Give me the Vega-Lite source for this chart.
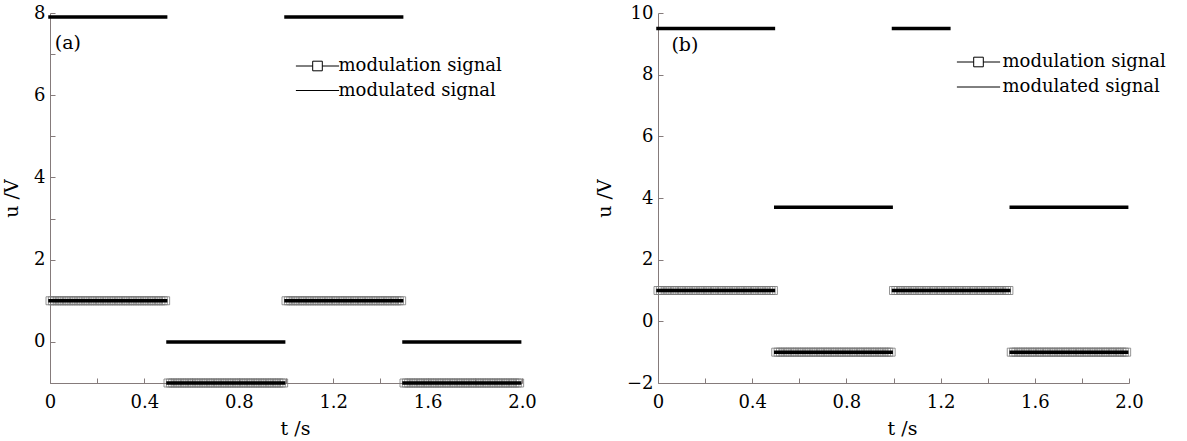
{
"$schema": "https://vega.github.io/schema/vega-lite/v6.json",
"background": "white",
"padding": {"left": 2, "top": 4, "right": 5, "bottom": 5},
"spacing": 58,
"config": {
  "view": {"stroke": null},
  "font": "DejaVu Serif",
  "axis": {"grid": false, "domainColor": "#857b7b", "tickColor": "#857b7b", "tickSize": -5, "domainWidth": 1, "tickWidth": 1,
    "labelFont": "DejaVu Serif", "labelFontSize": 18, "labelColor": "black", "labelOverlap": false, "labelFlush": false,
    "titleFont": "DejaVu Serif", "titleFontSize": 19, "titleFontWeight": "normal", "titleColor": "black"},
  "axisX": {"labelPadding": 15, "titlePadding": 8},
  "axisY": {"labelPadding": 10, "titlePadding": 12}
},
"datasets": {
  "mod": [
{"g":1,"t":0,"u":1},{"g":1,"t":0.01,"u":1},{"g":1,"t":0.02,"u":1},{"g":1,"t":0.03,"u":1},{"g":1,"t":0.04,"u":1},{"g":1,"t":0.05,"u":1},{"g":1,"t":0.06,"u":1},{"g":1,"t":0.07,"u":1},{"g":1,"t":0.08,"u":1},{"g":1,"t":0.09,"u":1},
{"g":1,"t":0.1,"u":1},{"g":1,"t":0.11,"u":1},{"g":1,"t":0.12,"u":1},{"g":1,"t":0.13,"u":1},{"g":1,"t":0.14,"u":1},{"g":1,"t":0.15,"u":1},{"g":1,"t":0.16,"u":1},{"g":1,"t":0.17,"u":1},{"g":1,"t":0.18,"u":1},{"g":1,"t":0.19,"u":1},
{"g":1,"t":0.2,"u":1},{"g":1,"t":0.21,"u":1},{"g":1,"t":0.22,"u":1},{"g":1,"t":0.23,"u":1},{"g":1,"t":0.24,"u":1},{"g":1,"t":0.25,"u":1},{"g":1,"t":0.26,"u":1},{"g":1,"t":0.27,"u":1},{"g":1,"t":0.28,"u":1},{"g":1,"t":0.29,"u":1},
{"g":1,"t":0.3,"u":1},{"g":1,"t":0.31,"u":1},{"g":1,"t":0.32,"u":1},{"g":1,"t":0.33,"u":1},{"g":1,"t":0.34,"u":1},{"g":1,"t":0.35,"u":1},{"g":1,"t":0.36,"u":1},{"g":1,"t":0.37,"u":1},{"g":1,"t":0.38,"u":1},{"g":1,"t":0.39,"u":1},
{"g":1,"t":0.4,"u":1},{"g":1,"t":0.41,"u":1},{"g":1,"t":0.42,"u":1},{"g":1,"t":0.43,"u":1},{"g":1,"t":0.44,"u":1},{"g":1,"t":0.45,"u":1},{"g":1,"t":0.46,"u":1},{"g":1,"t":0.47,"u":1},{"g":1,"t":0.48,"u":1},{"g":1,"t":0.49,"u":1},
{"g":2,"t":0.5,"u":-1},{"g":2,"t":0.51,"u":-1},{"g":2,"t":0.52,"u":-1},{"g":2,"t":0.53,"u":-1},{"g":2,"t":0.54,"u":-1},{"g":2,"t":0.55,"u":-1},{"g":2,"t":0.56,"u":-1},{"g":2,"t":0.57,"u":-1},{"g":2,"t":0.58,"u":-1},{"g":2,"t":0.59,"u":-1},
{"g":2,"t":0.6,"u":-1},{"g":2,"t":0.61,"u":-1},{"g":2,"t":0.62,"u":-1},{"g":2,"t":0.63,"u":-1},{"g":2,"t":0.64,"u":-1},{"g":2,"t":0.65,"u":-1},{"g":2,"t":0.66,"u":-1},{"g":2,"t":0.67,"u":-1},{"g":2,"t":0.68,"u":-1},{"g":2,"t":0.69,"u":-1},
{"g":2,"t":0.7,"u":-1},{"g":2,"t":0.71,"u":-1},{"g":2,"t":0.72,"u":-1},{"g":2,"t":0.73,"u":-1},{"g":2,"t":0.74,"u":-1},{"g":2,"t":0.75,"u":-1},{"g":2,"t":0.76,"u":-1},{"g":2,"t":0.77,"u":-1},{"g":2,"t":0.78,"u":-1},{"g":2,"t":0.79,"u":-1},
{"g":2,"t":0.8,"u":-1},{"g":2,"t":0.81,"u":-1},{"g":2,"t":0.82,"u":-1},{"g":2,"t":0.83,"u":-1},{"g":2,"t":0.84,"u":-1},{"g":2,"t":0.85,"u":-1},{"g":2,"t":0.86,"u":-1},{"g":2,"t":0.87,"u":-1},{"g":2,"t":0.88,"u":-1},{"g":2,"t":0.89,"u":-1},
{"g":2,"t":0.9,"u":-1},{"g":2,"t":0.91,"u":-1},{"g":2,"t":0.92,"u":-1},{"g":2,"t":0.93,"u":-1},{"g":2,"t":0.94,"u":-1},{"g":2,"t":0.95,"u":-1},{"g":2,"t":0.96,"u":-1},{"g":2,"t":0.97,"u":-1},{"g":2,"t":0.98,"u":-1},{"g":2,"t":0.99,"u":-1},
{"g":3,"t":1,"u":1},{"g":3,"t":1.01,"u":1},{"g":3,"t":1.02,"u":1},{"g":3,"t":1.03,"u":1},{"g":3,"t":1.04,"u":1},{"g":3,"t":1.05,"u":1},{"g":3,"t":1.06,"u":1},{"g":3,"t":1.07,"u":1},{"g":3,"t":1.08,"u":1},{"g":3,"t":1.09,"u":1},
{"g":3,"t":1.1,"u":1},{"g":3,"t":1.11,"u":1},{"g":3,"t":1.12,"u":1},{"g":3,"t":1.13,"u":1},{"g":3,"t":1.14,"u":1},{"g":3,"t":1.15,"u":1},{"g":3,"t":1.16,"u":1},{"g":3,"t":1.17,"u":1},{"g":3,"t":1.18,"u":1},{"g":3,"t":1.19,"u":1},
{"g":3,"t":1.2,"u":1},{"g":3,"t":1.21,"u":1},{"g":3,"t":1.22,"u":1},{"g":3,"t":1.23,"u":1},{"g":3,"t":1.24,"u":1},{"g":3,"t":1.25,"u":1},{"g":3,"t":1.26,"u":1},{"g":3,"t":1.27,"u":1},{"g":3,"t":1.28,"u":1},{"g":3,"t":1.29,"u":1},
{"g":3,"t":1.3,"u":1},{"g":3,"t":1.31,"u":1},{"g":3,"t":1.32,"u":1},{"g":3,"t":1.33,"u":1},{"g":3,"t":1.34,"u":1},{"g":3,"t":1.35,"u":1},{"g":3,"t":1.36,"u":1},{"g":3,"t":1.37,"u":1},{"g":3,"t":1.38,"u":1},{"g":3,"t":1.39,"u":1},
{"g":3,"t":1.4,"u":1},{"g":3,"t":1.41,"u":1},{"g":3,"t":1.42,"u":1},{"g":3,"t":1.43,"u":1},{"g":3,"t":1.44,"u":1},{"g":3,"t":1.45,"u":1},{"g":3,"t":1.46,"u":1},{"g":3,"t":1.47,"u":1},{"g":3,"t":1.48,"u":1},{"g":3,"t":1.49,"u":1},
{"g":4,"t":1.5,"u":-1},{"g":4,"t":1.51,"u":-1},{"g":4,"t":1.52,"u":-1},{"g":4,"t":1.53,"u":-1},{"g":4,"t":1.54,"u":-1},{"g":4,"t":1.55,"u":-1},{"g":4,"t":1.56,"u":-1},{"g":4,"t":1.57,"u":-1},{"g":4,"t":1.58,"u":-1},{"g":4,"t":1.59,"u":-1},
{"g":4,"t":1.6,"u":-1},{"g":4,"t":1.61,"u":-1},{"g":4,"t":1.62,"u":-1},{"g":4,"t":1.63,"u":-1},{"g":4,"t":1.64,"u":-1},{"g":4,"t":1.65,"u":-1},{"g":4,"t":1.66,"u":-1},{"g":4,"t":1.67,"u":-1},{"g":4,"t":1.68,"u":-1},{"g":4,"t":1.69,"u":-1},
{"g":4,"t":1.7,"u":-1},{"g":4,"t":1.71,"u":-1},{"g":4,"t":1.72,"u":-1},{"g":4,"t":1.73,"u":-1},{"g":4,"t":1.74,"u":-1},{"g":4,"t":1.75,"u":-1},{"g":4,"t":1.76,"u":-1},{"g":4,"t":1.77,"u":-1},{"g":4,"t":1.78,"u":-1},{"g":4,"t":1.79,"u":-1},
{"g":4,"t":1.8,"u":-1},{"g":4,"t":1.81,"u":-1},{"g":4,"t":1.82,"u":-1},{"g":4,"t":1.83,"u":-1},{"g":4,"t":1.84,"u":-1},{"g":4,"t":1.85,"u":-1},{"g":4,"t":1.86,"u":-1},{"g":4,"t":1.87,"u":-1},{"g":4,"t":1.88,"u":-1},{"g":4,"t":1.89,"u":-1},
{"g":4,"t":1.9,"u":-1},{"g":4,"t":1.91,"u":-1},{"g":4,"t":1.92,"u":-1},{"g":4,"t":1.93,"u":-1},{"g":4,"t":1.94,"u":-1},{"g":4,"t":1.95,"u":-1},{"g":4,"t":1.96,"u":-1},{"g":4,"t":1.97,"u":-1},{"g":4,"t":1.98,"u":-1},{"g":4,"t":1.99,"u":-1}
  ],
  "siga": [
    {"g":1,"t":0,"u":7.9},{"g":1,"t":0.49,"u":7.9},
    {"g":2,"t":0.5,"u":0},{"g":2,"t":0.99,"u":0},
    {"g":3,"t":1,"u":7.9},{"g":3,"t":1.49,"u":7.9},
    {"g":4,"t":1.5,"u":0},{"g":4,"t":1.99,"u":0}
  ],
  "sigb": [
    {"g":1,"t":0,"u":9.5},{"g":1,"t":0.49,"u":9.5},
    {"g":2,"t":0.5,"u":3.7},{"g":2,"t":0.99,"u":3.7},
    {"g":3,"t":1,"u":9.5},{"g":3,"t":1.235,"u":9.5},
    {"g":4,"t":1.5,"u":3.7},{"g":4,"t":1.99,"u":3.7}
  ]
},
"resolve": {"scale": {"stroke": "independent"}, "legend": {"stroke": "independent"}},
"hconcat": [
  {
    "width": 472, "height": 370,
    "layer": [
      {"data": {"name": "mod"},
       "mark": {"type": "point", "shape": "square", "size": 64, "filled": false, "stroke": "#7a7a7a", "strokeWidth": 0.8, "opacity": 1},
       "encoding": {
         "x": {"field": "t", "type": "quantitative", "scale": {"domain": [0, 2], "nice": false, "zero": false},
               "axis": {"values": [0,0.2,0.4,0.6,0.8,1,1.2,1.4,1.6,1.8,2], "labelExpr": "datum.value == 0 ? '0' : (round(datum.value*10) % 4 == 0 ? format(datum.value, '.1f') : '')", "title": "t /s", "titleX": 245}},
         "y": {"field": "u", "type": "quantitative", "scale": {"domain": [-1, 8], "nice": false, "zero": false},
               "axis": {"values": [-1,0,1,2,3,4,5,6,7,8], "labelExpr": "datum.value % 2 == 0 ? datum.label : ''", "title": "u /V"}}
       }},
      {"data": {"name": "mod"},
       "mark": {"type": "line", "strokeWidth": 3.5, "strokeCap": "square", "strokeDash": [12, 1.5]},
       "encoding": {
         "x": {"field": "t", "type": "quantitative"},
         "y": {"field": "u", "type": "quantitative"},
         "detail": {"field": "g"},
         "stroke": {"datum": "modulation signal", "type": "nominal",
            "scale": {"domain": ["modulation signal", "modulated signal"], "range": ["black", "black"]},
            "legend": {"orient": "none", "legendX": 245, "legendY": 44, "title": null, "direction": "vertical", "padding": 0,
              "symbolSize": 256, "symbolStrokeWidth": 1, "symbolOffset": 13.5, "labelOffset": 12, "rowPadding": 6.5, "labelLimit": 400,
              "labelFont": "DejaVu Serif", "labelFontSize": 18, "labelColor": "black",
              "encode": {"symbols": {"update": {
                "shape": {"signal": "datum.value === 'modulation signal' ? 'M-2.7,0L-0.6,0M0.6,0L2.7,0M-0.6,-0.6L0.6,-0.6L0.6,0.6L-0.6,0.6Z' : 'M-2.7,0L2.7,0'"},
                "stroke": {"value": "#7f7777"}, "fill": {"value": "transparent"}, "strokeWidth": {"value": 1}, "strokeDash": {"value": []}, "opacity": {"value": 1}}}}}}
       }},
      {"data": {"name": "siga"},
       "mark": {"type": "line", "strokeWidth": 3.5, "strokeCap": "square", "strokeDash": [12, 1.5]},
       "encoding": {
         "x": {"field": "t", "type": "quantitative"},
         "y": {"field": "u", "type": "quantitative"},
         "detail": {"field": "g"},
         "stroke": {"datum": "modulated signal", "type": "nominal",
            "scale": {"domain": ["modulation signal", "modulated signal"], "range": ["black", "black"]}}
       }},
      {"data": {"values": [{}]},
       "mark": {"type": "text", "text": "(a)", "align": "left", "baseline": "middle", "font": "DejaVu Serif", "fontSize": 19, "color": "black"},
       "encoding": {"x": {"datum": 0.02, "type": "quantitative"}, "y": {"datum": 7.28, "type": "quantitative"}}}
    ]
  },
  {
    "width": 471, "height": 370,
    "layer": [
      {"data": {"name": "mod"},
       "mark": {"type": "point", "shape": "square", "size": 64, "filled": false, "stroke": "#7a7a7a", "strokeWidth": 0.8, "opacity": 1},
       "encoding": {
         "x": {"field": "t", "type": "quantitative", "scale": {"domain": [0, 2], "nice": false, "zero": false},
               "axis": {"values": [0,0.2,0.4,0.6,0.8,1,1.2,1.4,1.6,1.8,2], "labelExpr": "datum.value == 0 ? '0' : (round(datum.value*10) % 4 == 0 ? format(datum.value, '.1f') : '')", "title": "t /s", "titleX": 244}},
         "y": {"field": "u", "type": "quantitative", "scale": {"domain": [-2, 10], "nice": false, "zero": false},
               "axis": {"values": [-2,0,2,4,6,8,10], "title": "u /V"}}
       }},
      {"data": {"name": "mod"},
       "mark": {"type": "line", "strokeWidth": 3.5, "strokeCap": "square", "strokeDash": [12, 1.5]},
       "encoding": {
         "x": {"field": "t", "type": "quantitative"},
         "y": {"field": "u", "type": "quantitative"},
         "detail": {"field": "g"},
         "stroke": {"datum": "modulation signal", "type": "nominal",
            "scale": {"domain": ["modulation signal", "modulated signal"], "range": ["black", "black"]},
            "legend": {"orient": "none", "legendX": 298, "legendY": 40, "title": null, "direction": "vertical", "padding": 0,
              "symbolSize": 256, "symbolStrokeWidth": 1, "symbolOffset": 13.5, "labelOffset": 15, "rowPadding": 7, "labelLimit": 400,
              "labelFont": "DejaVu Serif", "labelFontSize": 18, "labelColor": "black",
              "encode": {"symbols": {"update": {
                "shape": {"signal": "datum.value === 'modulation signal' ? 'M-2.7,0L-0.6,0M0.6,0L2.7,0M-0.6,-0.6L0.6,-0.6L0.6,0.6L-0.6,0.6Z' : 'M-2.7,0L2.7,0'"},
                "stroke": {"value": "#7f7777"}, "fill": {"value": "transparent"}, "strokeWidth": {"value": 1}, "strokeDash": {"value": []}, "opacity": {"value": 1}}}}}}
       }},
      {"data": {"name": "sigb"},
       "mark": {"type": "line", "strokeWidth": 3.5, "strokeCap": "square", "strokeDash": [12, 1.5]},
       "encoding": {
         "x": {"field": "t", "type": "quantitative"},
         "y": {"field": "u", "type": "quantitative"},
         "detail": {"field": "g"},
         "stroke": {"datum": "modulated signal", "type": "nominal",
            "scale": {"domain": ["modulation signal", "modulated signal"], "range": ["black", "black"]}}
       }},
      {"data": {"values": [{}]},
       "mark": {"type": "text", "text": "(b)", "align": "left", "baseline": "middle", "font": "DejaVu Serif", "fontSize": 19, "color": "black"},
       "encoding": {"x": {"datum": 0.057, "type": "quantitative"}, "y": {"datum": 8.96, "type": "quantitative"}}}
    ]
  }
]
}
